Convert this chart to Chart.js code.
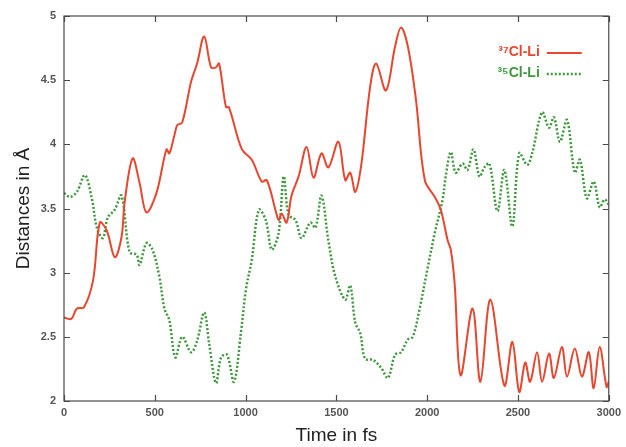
<!DOCTYPE html>
<html>
<head>
<meta charset="utf-8">
<script src="https://cdn.jsdelivr.net/npm/chart.js@4"></script>
<style>
  html, body { margin: 0; padding: 0; background: #fff; }
  #wrap { width: 626px; height: 447px; }
</style>
</head>
<body>
<div id="wrap"><canvas id="chart" width="626" height="447"></canvas></div>
<script>
// ---- data ----
const redLabel = '\u00B3\u2077Cl-Li';
const greenLabel = '\u00B3\u2075Cl-Li';

const redTime = [0, 40, 71, 110, 160, 197, 235, 280, 317, 334, 378, 416, 454, 509, 564, 580, 608, 624, 651, 700,
  733, 772, 810, 837, 854, 892, 908, 980, 1034, 1089, 1117, 1166, 1182, 1199, 1226, 1253, 1292, 1336, 1374, 1418,
  1456, 1511, 1549, 1576, 1604, 1637, 1686, 1719, 1773, 1823, 1856, 1894, 1938, 1987, 2042, 2075, 2113, 2130, 2151,
  2184, 2250, 2293, 2348, 2425, 2469, 2507, 2540, 2567, 2605, 2633, 2671, 2698, 2742, 2770, 2813, 2852, 2890, 2917,
  2950, 2988, 3000];
const redDist = [2.65, 2.64, 2.72, 2.73, 2.94, 3.39, 3.33, 3.12, 3.28, 3.55, 3.89, 3.70, 3.47, 3.62, 3.96, 3.93, 4.07, 4.15, 4.17, 4.49,
  4.63, 4.84, 4.60, 4.60, 4.63, 4.29, 4.29, 3.96, 3.88, 3.71, 3.72, 3.48, 3.41, 3.46, 3.39, 3.60, 3.75, 3.98, 3.74, 3.93,
  3.82, 4.02, 3.72, 3.78, 3.63, 3.84, 4.45, 4.63, 4.42, 4.76, 4.91, 4.76, 4.35, 3.72, 3.59, 3.49, 3.25, 3.18, 2.92,
  2.20, 2.72, 2.15, 2.79, 2.12, 2.46, 2.07, 2.30, 2.15, 2.38, 2.15, 2.37, 2.18, 2.42, 2.19, 2.41, 2.19, 2.38, 2.10,
  2.42, 2.11, 2.15];

const greenTime = [0, 33, 71, 115, 153, 181, 214, 241, 279, 317, 361, 400, 416, 454, 487, 525, 553, 580, 613, 651,
  700, 733, 772, 799, 837, 865, 898, 936, 974, 1002, 1034, 1073, 1111, 1144, 1182, 1210, 1237, 1275, 1308, 1357,
  1385, 1418, 1456, 1494, 1549, 1576, 1604, 1631, 1658, 1702, 1746, 1784, 1823, 1856, 1894, 1921, 1960, 2003, 2042,
  2085, 2102, 2130, 2157, 2195, 2222, 2255, 2288, 2315, 2343, 2387, 2425, 2469, 2507, 2551, 2578, 2633, 2671, 2698,
  2731, 2770, 2813, 2841, 2879, 2917, 2950, 2977, 3000];
const greenDist = [3.62, 3.59, 3.63, 3.76, 3.58, 3.35, 3.27, 3.43, 3.49, 3.60, 3.16, 3.14, 3.06, 3.23, 3.18, 2.97, 2.72, 2.63, 2.34, 2.50,
  2.38, 2.47, 2.69, 2.45, 2.14, 2.34, 2.36, 2.15, 2.53, 2.87, 3.10, 3.49, 3.41, 3.18, 3.31, 3.75, 3.45, 3.41, 3.27, 3.39,
  3.35, 3.60, 3.25, 2.97, 2.79, 2.90, 2.61, 2.53, 2.33, 2.32, 2.26, 2.18, 2.36, 2.38, 2.48, 2.50, 2.73, 3.04, 3.31,
  3.57, 3.75, 3.94, 3.78, 3.85, 3.80, 3.96, 3.75, 3.82, 3.85, 3.48, 3.80, 3.36, 3.93, 3.84, 3.93, 4.25, 4.13, 4.21,
  4.02, 4.19, 3.78, 3.88, 3.58, 3.71, 3.51, 3.57, 3.53];

const xTicks = [0, 500, 1000, 1500, 2000, 2500, 3000];
const yTicks = [2, 2.5, 3, 3.5, 4, 4.5, 5];

const RED = '#e8462e';
const GREEN = '#3d983b';
const FONT = '"Liberation Sans", Arial, sans-serif';

const toPoints = (xs, ys) => xs.map((x, i) => ({ x, y: ys[i] }));

// gnuplot-style frame with inward ticks on all four sides
const framePlugin = {
  id: 'frame',
  afterDatasetsDraw(chart) {
    const { ctx, chartArea: a, scales } = chart;
    ctx.save();
    ctx.strokeStyle = '#4a4a4a';
    ctx.lineWidth = 1.2;
    ctx.strokeRect(a.left, a.top, a.right - a.left, a.bottom - a.top);
    const len = 6;
    ctx.beginPath();
    xTicks.forEach(v => {
      const px = Math.round(scales.x.getPixelForValue(v)) + 0.5;
      ctx.moveTo(px, a.bottom); ctx.lineTo(px, a.bottom - len);
      ctx.moveTo(px, a.top); ctx.lineTo(px, a.top + len);
    });
    yTicks.forEach(v => {
      const py = Math.round(scales.y.getPixelForValue(v)) + 0.5;
      ctx.moveTo(a.left, py); ctx.lineTo(a.left + len, py);
      ctx.moveTo(a.right, py); ctx.lineTo(a.right - len, py);
    });
    ctx.stroke();
    ctx.restore();
  }
};

// legend inside top-right: label text, then line sample
const keyPlugin = {
  id: 'key',
  afterDraw(chart) {
    const { ctx, chartArea: a } = chart;
    ctx.save();
    ctx.font = 'bold 14px ' + FONT;
    ctx.textAlign = 'right';
    ctx.textBaseline = 'middle';
    chart.data.datasets.forEach((ds, i) => {
      const y = a.top + 36 + i * 21;
      const xText = a.right - 69;
      ctx.fillStyle = ds.borderColor;
      ctx.fillText(ds.label, xText, y);
      ctx.strokeStyle = ds.borderColor;
      ctx.lineWidth = ds.borderWidth;
      ctx.setLineDash(ds.borderDash || []);
      ctx.beginPath();
      ctx.moveTo(xText + 7, y + 1);
      ctx.lineTo(a.right - 27, y + 1);
      ctx.stroke();
    });
    ctx.restore();
  }
};

new Chart(document.getElementById('chart'), {
  type: 'line',
  data: {
    datasets: [
      {
        label: redLabel,
        data: toPoints(redTime, redDist),
        borderColor: RED,
        borderWidth: 2,
        pointRadius: 0,
        tension: 0.35
      },
      {
        label: greenLabel,
        data: toPoints(greenTime, greenDist),
        borderColor: GREEN,
        borderWidth: 2.5,
        borderDash: [2, 2],
        pointRadius: 0,
        tension: 0.35
      }
    ]
  },
  options: {
    responsive: false,
    animation: false,
    layout: { padding: { left: 0, top: 16, right: 14, bottom: 0 } },
    plugins: {
      legend: { display: false },
      tooltip: { enabled: false }
    },
    scales: {
      x: {
        type: 'linear',
        min: 0,
        max: 3000,
        afterBuildTicks: s => { s.ticks = xTicks.map(v => ({ value: v })); },
        afterFit: s => { s.height = 46; },
        grid: { display: false, drawTicks: false },
        border: { display: false },
        ticks: {
          padding: 5,
          color: '#555',
          font: { family: FONT, size: 11, weight: 'bold' },
          maxRotation: 0,
          callback: v => String(v)
        },
        title: {
          display: true,
          text: 'Time in fs',
          color: '#222',
          padding: { top: 6, bottom: 0 },
          font: { family: FONT, size: 19 }
        }
      },
      y: {
        min: 2,
        max: 5,
        afterBuildTicks: s => { s.ticks = yTicks.map(v => ({ value: v })); },
        afterFit: s => { s.width = 64; },
        grid: { display: false, drawTicks: false },
        border: { display: false },
        ticks: {
          padding: 8,
          color: '#555',
          font: { family: FONT, size: 11, weight: 'bold' },
          callback: v => String(v)
        },
        title: {
          display: true,
          text: 'Distances in \u00C5',
          color: '#222',
          padding: { top: 12, bottom: 0 },
          font: { family: FONT, size: 19 }
        }
      }
    }
  },
  plugins: [framePlugin, keyPlugin]
});
</script>
</body>
</html>
